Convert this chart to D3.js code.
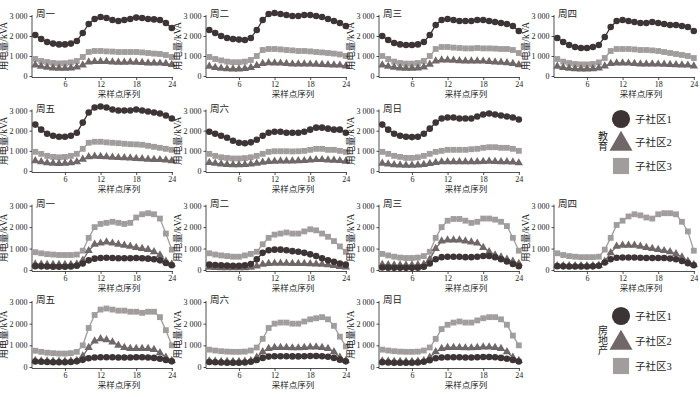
<!DOCTYPE html>
<html>
<head>
<meta charset="utf-8">
<script src="https://cdn.jsdelivr.net/npm/d3@7"></script>
<style>
  body { margin: 0; background: #fff; }
  svg text { font-family: "Liberation Serif", "Noto Sans CJK SC", serif; fill: #222; }
</style>
</head>
<body>
<div id="chart"></div>
<script>
const days = ["周一", "周二", "周三", "周四", "周五", "周六", "周日"];
const seriesNames = ["子社区1", "子社区2", "子社区3"];
const groupNames = ["教育", "房地产"];
const xTicks = [6, 12, 18, 24];
const yTicks = [0, 1000, 2000, 3000];

// 教育 — 子社区1 (circles)
const edu1 = [
  [2050,1850,1700,1620,1580,1580,1620,1750,2150,2600,2850,2950,2900,2800,2750,2800,2850,2920,2900,2850,2830,2800,2650,2400],
  [2300,2150,2000,1900,1850,1820,1800,1900,2300,2800,3100,3150,3100,3050,3000,3000,3050,3050,3000,2950,2850,2750,2650,2500],
  [2000,1800,1650,1580,1550,1550,1580,1700,2050,2550,2800,2850,2800,2750,2750,2750,2800,2800,2750,2700,2650,2600,2500,2250],
  [1900,1700,1550,1450,1400,1400,1450,1550,1950,2450,2750,2800,2750,2700,2650,2650,2700,2650,2600,2550,2550,2500,2450,2250],
  [2300,2050,1850,1750,1700,1700,1750,1900,2400,2900,3150,3200,3150,3050,3000,3000,3000,3050,3000,2950,2900,2850,2750,2600],
  [1950,1850,1750,1650,1500,1400,1380,1420,1550,1750,1900,1950,1950,1900,1900,1900,1950,2050,2150,2150,2100,2050,2050,1900],
  [2300,2050,1850,1750,1700,1680,1700,1850,2100,2400,2600,2650,2650,2600,2600,2600,2700,2800,2850,2800,2750,2700,2650,2550]
];
// 教育 — 子社区2 (triangles)
const edu2 = [
  [550,480,430,400,380,380,400,450,550,700,720,720,720,700,680,680,700,680,670,650,650,640,620,570],
  [480,420,380,360,350,350,370,420,520,620,660,650,640,620,600,600,600,590,580,570,560,550,540,500],
  [550,480,430,400,380,380,400,450,580,750,800,800,780,760,750,750,750,740,720,700,680,660,620,560],
  [480,420,380,360,350,350,360,400,500,620,650,650,640,620,600,600,600,590,580,570,560,550,540,500],
  [500,450,400,380,370,380,400,450,580,700,730,720,700,680,660,650,640,620,600,580,570,560,540,500],
  [420,380,340,320,310,310,320,340,380,430,470,480,490,490,490,500,510,540,560,560,540,530,510,480],
  [380,340,310,290,280,280,290,320,370,420,450,460,460,460,450,450,460,470,480,470,460,450,440,400]
];
// 教育 — 子社区3 (squares)
const edu3 = [
  [850,750,700,650,630,640,680,750,950,1200,1250,1250,1230,1220,1200,1200,1200,1200,1180,1150,1120,1100,1050,950],
  [950,850,780,720,690,690,720,800,1000,1300,1350,1350,1330,1300,1280,1250,1250,1230,1200,1180,1150,1120,1080,1000],
  [1000,850,720,650,620,620,650,750,1000,1350,1450,1450,1420,1400,1380,1380,1400,1380,1380,1370,1350,1350,1300,1150],
  [850,720,650,600,580,580,600,680,900,1250,1350,1350,1350,1330,1300,1300,1280,1250,1200,1150,1100,1050,1000,900],
  [950,850,750,700,680,700,750,850,1100,1400,1450,1450,1420,1400,1380,1350,1330,1320,1300,1250,1200,1150,1100,1050],
  [850,750,680,650,620,620,640,680,750,850,950,980,980,980,970,980,1000,1050,1100,1100,1050,1050,1000,950],
  [950,850,750,700,650,650,680,750,850,950,1000,1050,1050,1050,1050,1080,1100,1150,1180,1180,1150,1150,1100,1000]
];
// 房地产 — 子社区1 (circles)
const re1 = [
  [180,170,160,150,150,150,160,200,300,450,530,560,570,560,550,550,550,560,550,530,500,450,330,220],
  [250,230,220,210,200,200,220,280,500,800,920,950,950,920,880,850,800,730,650,550,450,380,300,250],
  [120,110,100,100,100,100,110,150,300,500,600,620,620,620,600,600,620,650,650,600,500,400,280,180],
  [180,170,160,160,160,160,170,200,350,500,570,580,580,580,570,560,560,560,560,540,500,420,320,220],
  [250,240,230,220,220,220,230,260,330,400,440,450,450,450,440,440,440,450,450,440,420,380,320,260],
  [230,220,210,200,200,200,210,240,320,420,480,500,500,500,490,490,500,510,510,500,470,420,340,260],
  [220,210,200,200,200,200,210,240,310,400,440,450,450,450,440,440,450,460,460,450,420,380,320,250]
];
// 房地产 — 子社区2 (triangles)
const re2 = [
  [280,260,250,250,250,250,250,280,450,900,1200,1250,1300,1250,1200,1150,1100,1050,1000,950,850,700,400,280],
  [120,110,100,100,100,100,100,120,180,260,300,310,310,310,300,300,300,290,280,260,240,200,160,130],
  [250,240,230,230,230,230,240,260,500,1000,1350,1400,1400,1400,1350,1300,1250,1050,850,700,600,500,400,300],
  [200,200,200,200,200,200,200,220,400,800,1100,1150,1150,1150,1100,1050,1000,950,900,850,750,600,400,250],
  [300,280,270,260,260,260,270,300,500,900,1200,1300,1250,1150,1000,900,850,850,850,850,800,650,450,300],
  [280,260,250,250,250,250,260,290,450,700,850,900,900,900,880,880,900,920,920,900,850,700,450,300],
  [280,260,250,250,250,250,260,290,450,700,850,900,900,900,880,880,900,920,920,900,850,700,450,300]
];
// 房地产 — 子社区3 (squares)
const re3 = [
  [830,780,740,720,700,700,700,720,900,1500,2000,2150,2200,2250,2200,2150,2200,2450,2600,2650,2600,2400,1700,950],
  [780,720,680,650,620,620,680,750,850,1200,1500,1650,1700,1750,1700,1700,1800,1900,1850,1700,1550,1350,1100,850],
  [750,680,620,580,560,560,580,650,850,1500,2000,2300,2380,2380,2300,2200,2250,2400,2400,2350,2250,2050,1500,900],
  [780,700,650,620,600,600,600,620,950,1500,2100,2300,2500,2600,2550,2450,2400,2600,2650,2650,2600,2250,1800,900],
  [750,700,660,640,620,620,640,700,1000,1800,2400,2650,2700,2650,2600,2600,2550,2550,2500,2550,2550,2300,1700,1000],
  [800,760,730,710,700,700,710,760,900,1300,1800,2000,2050,2050,2000,2000,2100,2200,2250,2300,2200,1900,1400,950],
  [800,760,730,710,700,700,710,760,900,1300,1750,1950,2050,2100,2050,2050,2150,2250,2300,2300,2200,1950,1450,1000]
];

const colors = ["#3d3535", "#706868", "#a29d9d"];
const shapes = [d3.symbolCircle, d3.symbolTriangle, d3.symbolSquare];
const symSize = [34, 30, 34];

const svg = d3.select("#chart").append("svg")
  .attr("width", 700)
  .attr("height", 397);

// panel grid
const colX = [32, 206, 379, 554];
const rowTop = [16, 110.5, 205.7, 302];
const rowZero = [76, 171, 270, 367];
const plotW = 141;

const fmt = v => v === 0 ? "0" : d3.format(",")(v).replace(",", " ");

function drawPanel(col, row, title, sets) {
  const left = colX[col];
  const x = d3.scaleLinear().domain([0.45, 24.2]).range([left, left + plotW]);
  const y = d3.scaleLinear().domain([0, 3000]).range([rowZero[row], rowTop[row]]);
  const g = svg.append("g");

  const yAxis = g.append("g")
    .attr("transform", `translate(${left},0)`)
    .call(d3.axisLeft(y).tickValues(yTicks).tickFormat(fmt).tickSize(2.5).tickPadding(2));
  yAxis.select(".domain").attr("d", `M0,${rowTop[row] - 1}V${rowZero[row] + 1.5}`);

  const xAxis = g.append("g")
    .attr("transform", `translate(0,${rowZero[row] + 1.5})`)
    .call(d3.axisBottom(x).tickValues(xTicks).tickSize(2.5).tickPadding(1.5));
  xAxis.select(".domain").attr("d", `M${left},0H${left + plotW}`);

  g.selectAll(".domain, .tick line").attr("stroke", "#222").attr("stroke-width", 0.8);
  g.selectAll(".tick text").attr("font-size", 8).attr("fill", "#333");

  g.append("text")
    .attr("x", left + 4)
    .attr("y", rowTop[row] + 1)
    .attr("font-size", 9.5)
    .text(title);

  g.append("text")
    .attr("transform", `translate(${left - 25},${(rowTop[row] + rowZero[row]) / 2}) rotate(-90)`)
    .attr("text-anchor", "middle")
    .attr("font-size", 9.5)
    .text("用电量/kVA");

  g.append("text")
    .attr("x", left + 87)
    .attr("y", rowZero[row] + 21)
    .attr("text-anchor", "middle")
    .attr("font-size", 8.5)
    .text("采样点序列");

  const line = d3.line().x((d, i) => x(i + 1)).y(d => y(d));
  sets.forEach(s => {
    g.append("path")
      .datum(s.values)
      .attr("fill", "none")
      .attr("stroke", colors[s.k])
      .attr("stroke-width", 1.3)
      .attr("d", line);
    g.selectAll(null)
      .data(s.values)
      .enter()
      .append("path")
      .attr("transform", (d, i) => `translate(${x(i + 1)},${y(d)})`)
      .attr("d", d3.symbol().type(shapes[s.k]).size(symSize[s.k]))
      .attr("fill", colors[s.k]);
  });
}

const slots = [[0, 0], [1, 0], [2, 0], [3, 0], [0, 1], [1, 1], [2, 1]];

days.forEach((day, i) => {
  const [c, r] = slots[i];
  drawPanel(c, r, day, [
    { k: 2, values: edu3[i] },
    { k: 1, values: edu2[i] },
    { k: 0, values: edu1[i] }
  ]);
  drawPanel(c, r + 2, day, [
    { k: 2, values: re3[i] },
    { k: 1, values: re2[i] },
    { k: 0, values: re1[i] }
  ]);
});

// legends
const legendY = [[119, 142, 166], [316, 341, 366]];
groupNames.forEach((name, gi) => {
  const lg = svg.append("g");
  seriesNames.forEach((s, k) => {
    lg.append("path")
      .attr("transform", `translate(621,${legendY[gi][k] + (k === 1 ? 2 : 0)})`)
      .attr("d", d3.symbol().type(shapes[k]).size(k === 1 ? 230 : 260))
      .attr("fill", colors[k]);
    lg.append("text")
      .attr("x", 635)
      .attr("y", legendY[gi][k] + 4)
      .attr("font-size", 10.5)
      .text(s);
  });
  const chars = Array.from(name);
  const cy = legendY[gi][1];
  chars.forEach((ch, j) => {
    lg.append("text")
      .attr("x", 603)
      .attr("y", cy - (chars.length * 10) / 2 + 10 * j + 8)
      .attr("text-anchor", "middle")
      .attr("font-size", 10)
      .text(ch);
  });
});
</script>
</body>
</html>
